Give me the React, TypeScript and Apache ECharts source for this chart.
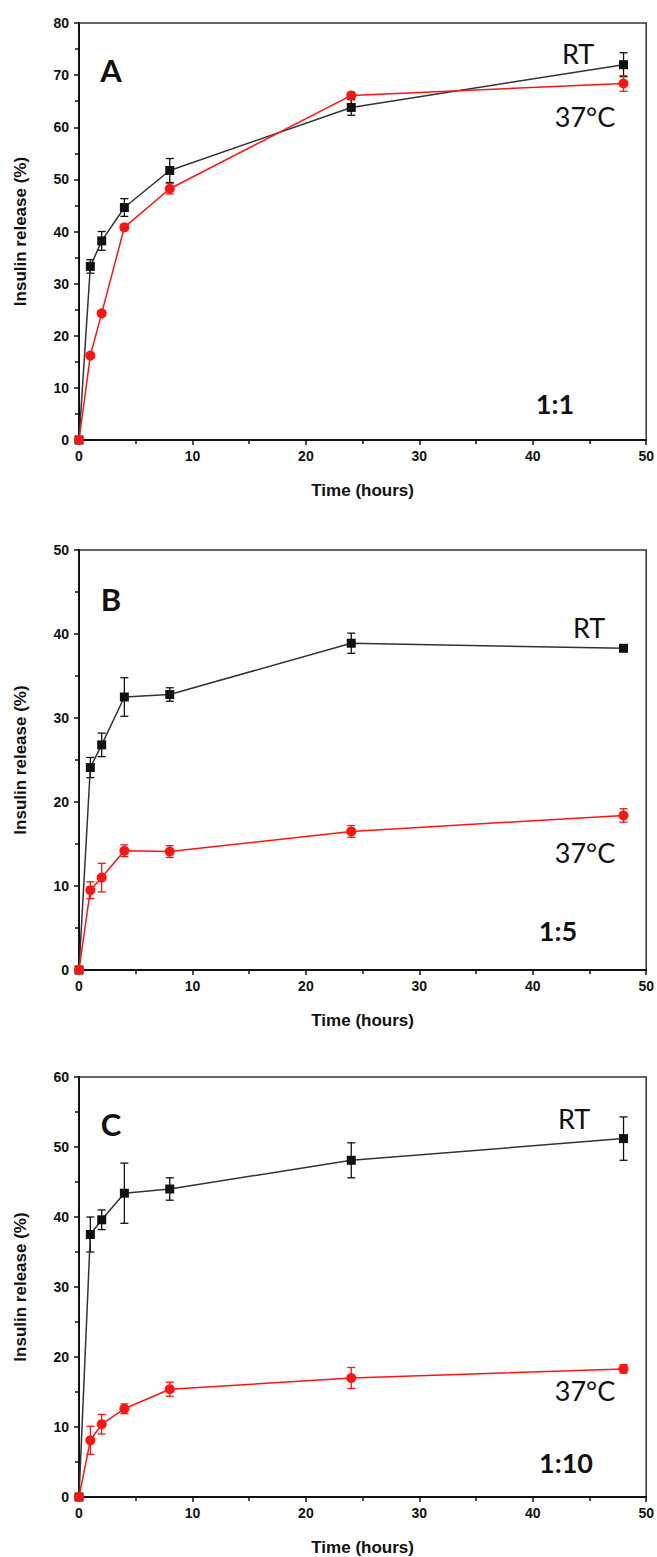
import React, { useEffect, useRef } from "react";
import * as echarts from "echarts";

// ---- data ----
const times = [0, 1, 2, 4, 8, 24, 48];
const xTicks = [0, 10, 20, 30, 40, 50];

const rtA = [0, 33.3, 38.2, 44.6, 51.7, 63.8, 72.0];
const rtAErr = [0, 1.3, 1.8, 1.7, 2.3, 1.5, 2.3];
const hotA = [0, 16.2, 24.3, 40.8, 48.2, 66.1, 68.4];
const hotAErr = [0, 0.5, 0.5, 0.6, 1.0, 0.6, 1.5];

const rtB = [0, 24.1, 26.8, 32.5, 32.8, 38.9, 38.3];
const rtBErr = [0, 1.2, 1.4, 2.3, 0.8, 1.2, 0.4];
const hotB = [0, 9.5, 11.0, 14.2, 14.1, 16.5, 18.4];
const hotBErr = [0, 1.0, 1.7, 0.7, 0.7, 0.7, 0.8];

const rtC = [0, 37.5, 39.6, 43.4, 44.0, 48.1, 51.2];
const rtCErr = [0, 2.5, 1.4, 4.3, 1.6, 2.5, 3.1];
const hotC = [0, 8.1, 10.4, 12.6, 15.4, 17.0, 18.3];
const hotCErr = [0, 2.0, 1.4, 0.7, 1.0, 1.5, 0.6];

const yMaxes = [80, 50, 60];
const panelLetters = ["A", "B", "C"];
const ratioLabels = ["1:1", "1:5", "1:10"];
const seriesNames = ["RT", "37°C"];

// ---- layout ----
const W = 657;
const H = 1557;
const gridLeft = 79;
const gridWidth = 568;
const panelLayout = [
  { top: 23, height: 417, letterY: 70, rtY: 53, hotY: 116, ratioY: 403, rtX: 578, hotX: 585, ratioX: 555 },
  { top: 550, height: 420, letterY: 599, rtY: 627, hotY: 852, ratioY: 930, rtX: 589, hotX: 585, ratioX: 558 },
  { top: 1077, height: 420, letterY: 1124, rtY: 1118, hotY: 1390, ratioY: 1462, rtX: 574, hotX: 585, ratioX: 566 },
];

const panelsData = [
  { rt: rtA, rtErr: rtAErr, hot: hotA, hotErr: hotAErr },
  { rt: rtB, rtErr: rtBErr, hot: hotB, hotErr: hotBErr },
  { rt: rtC, rtErr: rtCErr, hot: hotC, hotErr: hotCErr },
];

const BLACK = "#111111";
const LINE_BLACK = "#333333";
const RED = "#ff1414";
const tickFont = "'Liberation Sans', Arial, sans-serif";
const annoFont = "Lato, 'Open Sans', sans-serif";

function errorSeries(i: number, vals: number[], errs: number[], color: string) {
  const data = times
    .map((t, k) => (errs[k] > 0 ? [t, vals[k] - errs[k], vals[k] + errs[k]] : null))
    .filter((d) => d !== null);
  return {
    type: "custom",
    xAxisIndex: i,
    yAxisIndex: i,
    z: 3,
    silent: true,
    data,
    encode: { x: 0, y: [1, 2] },
    renderItem: (params: any, api: any) => {
      const x = api.value(0);
      const lo = api.coord([x, api.value(1)]);
      const hi = api.coord([x, api.value(2)]);
      const hw = 4;
      const style = { stroke: color, lineWidth: 1.3 };
      return {
        type: "group",
        children: [
          { type: "line", shape: { x1: lo[0], y1: lo[1], x2: hi[0], y2: hi[1] }, style },
          { type: "line", shape: { x1: lo[0] - hw, y1: lo[1], x2: lo[0] + hw, y2: lo[1] }, style },
          { type: "line", shape: { x1: hi[0] - hw, y1: hi[1], x2: hi[0] + hw, y2: hi[1] }, style },
        ],
      };
    },
  };
}

export default function App() {
  const ref = useRef<HTMLDivElement>(null);

  useEffect(() => {
    if (!ref.current) return;
    const chart = echarts.init(ref.current, null, { renderer: "svg", width: W, height: H });

    const grids = panelLayout.map((p) => ({
      left: gridLeft,
      top: p.top,
      width: gridWidth,
      height: p.height,
      show: true,
      borderColor: "#333",
      borderWidth: 1.5,
      backgroundColor: "transparent",
    }));

    const axisCommon = {
      type: "value",
      axisLine: { show: true, onZero: false, lineStyle: { color: BLACK, width: 2 } },
      axisTick: { show: true, length: 5, lineStyle: { color: BLACK, width: 1.5 } },
      minorTick: { show: true, splitNumber: 2, length: 4, lineStyle: { color: BLACK, width: 1.5 } },
      splitLine: { show: false },
      minorSplitLine: { show: false },
      axisLabel: { fontFamily: tickFont, fontWeight: "bold", fontSize: 14, color: BLACK },
      nameLocation: "middle",
      nameTextStyle: { fontFamily: tickFont, fontWeight: "bold", fontSize: 17, color: BLACK },
    };

    const xAxes = panelLayout.map((_, i) => ({
      ...axisCommon,
      gridIndex: i,
      min: xTicks[0],
      max: xTicks[xTicks.length - 1],
      interval: 10,
      name: "Time (hours)",
      nameGap: 42,
      axisLabel: { ...axisCommon.axisLabel, margin: 9 },
    }));

    const yAxes = panelLayout.map((_, i) => ({
      ...axisCommon,
      gridIndex: i,
      min: 0,
      max: yMaxes[i],
      interval: 10,
      name: "Insulin release (%)",
      nameGap: 50,
      axisLabel: { ...axisCommon.axisLabel, margin: 10 },
    }));

    const series: any[] = [];
    panelsData.forEach((pd, i) => {
      series.push(errorSeries(i, pd.rt, pd.rtErr, BLACK));
      series.push(errorSeries(i, pd.hot, pd.hotErr, RED));
      series.push({
        type: "line",
        name: seriesNames[0],
        xAxisIndex: i,
        yAxisIndex: i,
        data: times.map((t, k) => [t, pd.rt[k]]),
        symbol: "rect",
        symbolSize: 9,
        showAllSymbol: true,
        itemStyle: { color: BLACK },
        lineStyle: { color: LINE_BLACK, width: 1.5 },
        z: 4,
      });
      series.push({
        type: "line",
        name: seriesNames[1],
        xAxisIndex: i,
        yAxisIndex: i,
        data: times.map((t, k) => [t, pd.hot[k]]),
        symbol: "circle",
        symbolSize: 10,
        showAllSymbol: true,
        itemStyle: { color: RED },
        lineStyle: { color: RED, width: 1.5 },
        z: 5,
      });
    });

    const graphic: any[] = [];
    panelLayout.forEach((p, i) => {
      graphic.push({
        type: "text",
        x: 111,
        y: p.letterY,
        style: {
          text: panelLetters[i],
          fontFamily: annoFont,
          fontWeight: "bold",
          fontSize: 31,
          fill: BLACK,
          textAlign: "center",
          textVerticalAlign: "middle",
        },
      });
      graphic.push({
        type: "text",
        x: p.rtX,
        y: p.rtY,
        style: {
          text: seriesNames[0],
          fontFamily: annoFont,
          fontSize: 27,
          fill: BLACK,
          textAlign: "center",
          textVerticalAlign: "middle",
        },
      });
      graphic.push({
        type: "text",
        x: p.hotX,
        y: p.hotY,
        style: {
          text: seriesNames[1],
          fontFamily: annoFont,
          fontSize: 27,
          fill: BLACK,
          textAlign: "center",
          textVerticalAlign: "middle",
        },
      });
      graphic.push({
        type: "text",
        x: p.ratioX,
        y: p.ratioY,
        style: {
          text: ratioLabels[i],
          fontFamily: annoFont,
          fontWeight: "bold",
          fontSize: 27,
          fill: BLACK,
          textAlign: "center",
          textVerticalAlign: "middle",
        },
      });
    });

    chart.setOption({
      animation: false,
      backgroundColor: "#ffffff",
      grid: grids,
      xAxis: xAxes,
      yAxis: yAxes,
      series,
      graphic,
    });

    return () => chart.dispose();
  }, []);

  return (
    <div
      ref={ref}
      style={{ position: "absolute", left: 0, top: 0, width: W, height: H, background: "#fff" }}
    />
  );
}
